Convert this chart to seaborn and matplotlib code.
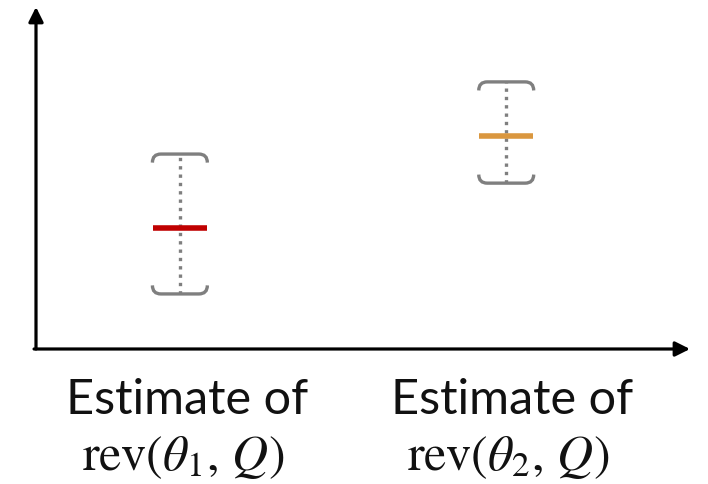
import numpy as np
import pandas as pd

import matplotlib
matplotlib.use("Agg")

import matplotlib.pyplot as plt
from matplotlib.path import Path
from matplotlib.patches import PathPatch
import seaborn as sns

# data (arbitrary units)
positions = [2.2, 7.19]
means = [3.54, 6.23]
lowers = [1.61, 4.85]
uppers = [5.70, 7.81]
colors = ["#C00000", "#DA973F"]
line1 = ["Estimate of", "Estimate of"]
line2 = [r"$\mathrm{rev}(\theta_1,\,Q)$", r"$\mathrm{rev}(\theta_2,\,Q)$"]

sns.set_theme(style="white")
plt.rcParams["mathtext.fontset"] = "stix"

fig = plt.figure(figsize=(7.08, 4.85), dpi=100)
ax = fig.add_axes([36 / 708, 1 - 350 / 485, 654 / 708, 342 / 485])
ax.set_xlim(0, 10)
ax.set_ylim(0, 10)
ax.axis("off")

gray = "#7f7f7f"
half_w = 0.42   # bracket half-width (data x)
curl = 0.25     # bracket curl height (data y)
rnd = 0.13      # corner rounding (data x)


def bracket(x, y, direction):
    # direction = -1 for top bracket (curls down), +1 for bottom (curls up)
    d = direction * curl
    verts = [(x - half_w, y + d), (x - half_w, y), (x - half_w + rnd, y),
             (x + half_w - rnd, y), (x + half_w, y), (x + half_w, y + d)]
    codes = [Path.MOVETO, Path.CURVE3, Path.CURVE3,
             Path.LINETO, Path.CURVE3, Path.CURVE3]
    ax.add_patch(PathPatch(Path(verts, codes), facecolor="none",
                           edgecolor=gray, lw=2.4, capstyle="butt"))


df = pd.DataFrame({"x": positions, "mean": means, "lo": lowers, "hi": uppers})
for i, row in df.iterrows():
    ax.plot([row["x"], row["x"]], [row["lo"], row["hi"]], color=gray,
            lw=2.4, linestyle=(0, (1.0, 1.5)), zorder=1)
    bracket(row["x"], row["hi"], -1)
    bracket(row["x"], row["lo"], 1)
    ax.plot([row["x"] - 0.41, row["x"] + 0.41], [row["mean"], row["mean"]],
            color=colors[i], lw=4.0, solid_capstyle="butt", zorder=3)

# axis arrows
arrow = dict(arrowstyle="-|>", color="black", lw=2.3, mutation_scale=22,
             shrinkA=0, shrinkB=0)
ax.annotate("", xy=(0, 1.0), xytext=(0, 0), xycoords="axes fraction",
            arrowprops=arrow, annotation_clip=False)
ax.annotate("", xy=(1.0, 0), xytext=(-0.003, 0), xycoords="axes fraction",
            arrowprops=arrow, annotation_clip=False)

# labels
for x, t1, t2 in zip([187, 512], line1, line2):
    fig.text(x / 708, 1 - 400 / 485, t1, ha="center", va="center",
             fontsize=35, family="Lato", color="#111111")
    fig.text((x - 4) / 708, 1 - 457 / 485, t2, ha="center", va="center",
             fontsize=36, color="#111111")

fig.savefig("out.png", dpi=100)
